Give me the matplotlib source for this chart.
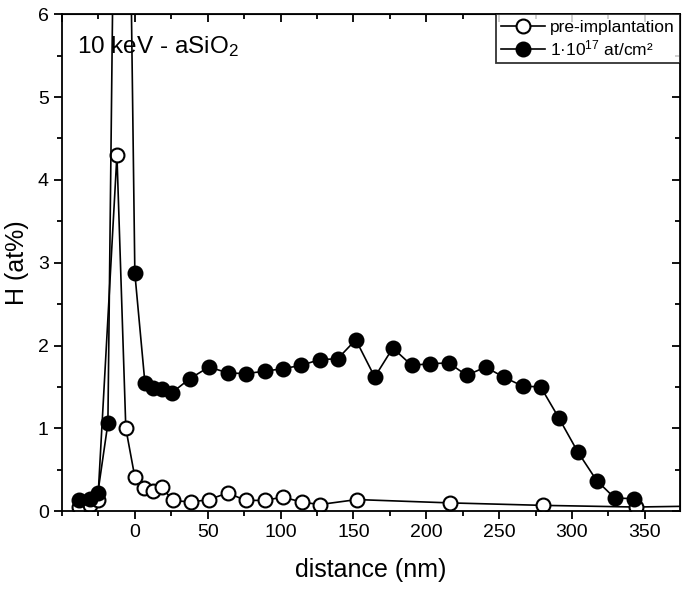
import matplotlib
matplotlib.use('Agg')
import matplotlib.pyplot as plt
from matplotlib.ticker import MultipleLocator

plt.rcParams['font.family'] = ['Liberation Sans', 'DejaVu Sans']
plt.rcParams['mathtext.fontset'] = 'custom'
plt.rcParams['mathtext.rm'] = 'Liberation Sans'
plt.rcParams['mathtext.it'] = 'Liberation Sans:italic'

# pre-implantation profile
pre_x = [-38.5, -31, -25.4, -12.3, -6.2, 0, 6.2, 12.3, 18.5, 26, 38.4, 50.8, 63.8,
         76, 89, 101.5, 114.5, 126.9, 152.3, 216, 280, 343.6, 420]
pre_y = [0.05, 0.08, 0.13, 4.3, 1.0, 0.41, 0.28, 0.24, 0.29, 0.13, 0.11, 0.14, 0.22,
         0.13, 0.13, 0.17, 0.11, 0.08, 0.14, 0.10, 0.07, 0.05, 0.07]

# implanted 1e17 at/cm2 profile
imp_x = [-38.4, -31, -25.4, -18.5, -9.3, 0, 6.9, 12.3, 18.5, 25.4, 37.7, 50.8, 63.8,
         76, 89, 101.5, 113.9, 126.9, 139.2, 151.6, 164.6, 177, 190, 202.3, 215.4,
         227.7, 240.7, 253, 266.1, 278.5, 290.8, 303.8, 316.9, 329.2, 342.2]
imp_y = [0.14, 0.15, 0.22, 1.06, 15.4, 2.87, 1.55, 1.49, 1.47, 1.43, 1.6, 1.74, 1.67,
         1.66, 1.69, 1.72, 1.76, 1.83, 1.84, 2.07, 1.62, 1.97, 1.76, 1.78, 1.79,
         1.64, 1.74, 1.62, 1.51, 1.50, 1.13, 0.72, 0.37, 0.16, 0.15]

fig = plt.figure(figsize=(6.85, 5.93), dpi=100)
ax = fig.add_axes([0.0905, 0.138, 0.902, 0.838])

ax.plot(pre_x, pre_y, '-o', color='black', lw=1.2, ms=10, mfc='white',
        mec='black', mew=1.5, label='pre-implantation', zorder=2)
ax.plot(imp_x, imp_y, '-o', color='black', lw=1.2, ms=10, mfc='black',
        mec='black', mew=1.5, label='1·10$^{17}$ at/cm²', zorder=3)

ax.set_xlim(-50, 374)
ax.set_ylim(0, 6)
ax.xaxis.set_major_locator(MultipleLocator(50))
ax.xaxis.set_minor_locator(MultipleLocator(25))
ax.yaxis.set_major_locator(MultipleLocator(1))
ax.yaxis.set_minor_locator(MultipleLocator(0.5))
ax.set_xticks([0, 50, 100, 150, 200, 250, 300, 350])
ax.tick_params(which='major', direction='out', length=6, width=1.3, labelsize=14)
ax.tick_params(which='minor', direction='out', length=3.5, width=1.3)
for s in ax.spines.values():
    s.set_linewidth(1.3)

# mirrored ticks pointing inward on top and right
top = ax.secondary_xaxis('top')
top.xaxis.set_major_locator(MultipleLocator(50))
top.xaxis.set_minor_locator(MultipleLocator(25))
top.tick_params(which='major', direction='in', length=6, width=1.3, labeltop=False)
top.tick_params(which='minor', direction='in', length=3.5, width=1.3)
right = ax.secondary_yaxis('right')
right.yaxis.set_major_locator(MultipleLocator(1))
right.yaxis.set_minor_locator(MultipleLocator(0.5))
right.tick_params(which='major', direction='in', length=6, width=1.3, labelright=False)
right.tick_params(which='minor', direction='in', length=3.5, width=1.3)

ax.set_xlabel('distance (nm)', fontsize=18, labelpad=12)
ax.set_ylabel('H (at%)', fontsize=18, labelpad=6)

ax.text(0.025, 0.935, '10 keV - aSiO$_2$', transform=ax.transAxes,
        fontsize=17.5, va='center', ha='left')

leg = ax.legend(loc='upper right', fontsize=12.5, frameon=True, fancybox=False,
                borderaxespad=0, handlelength=2.5, borderpad=0.3,
                labelspacing=0.2, handletextpad=0.3)
leg.get_frame().set_edgecolor('black')
leg.get_frame().set_linewidth(1.3)

fig.savefig('out.png', dpi=100)
